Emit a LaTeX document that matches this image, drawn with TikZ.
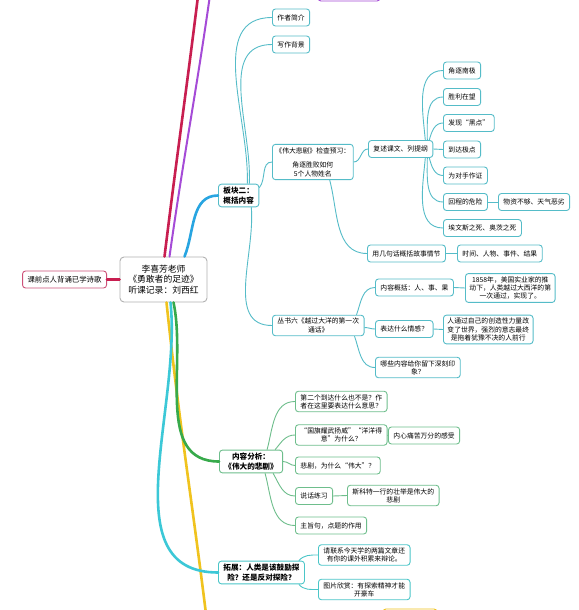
\documentclass[tikz,border=0pt]{standalone}
\usepackage{fontspec}
\newfontfamily\cjk{Noto Sans CJK SC}
\usetikzlibrary{positioning}
\definecolor{crimsonline}{RGB}{200,30,80}
\definecolor{pinkbox}{RGB}{205,80,120}
\definecolor{purpleline}{RGB}{165,75,215}
\definecolor{blueline}{RGB}{40,165,225}
\definecolor{tealbox}{RGB}{85,188,200}
\definecolor{greenline}{RGB}{55,170,75}
\definecolor{greenbox}{RGB}{110,190,140}
\definecolor{cyanline}{RGB}{60,200,215}
\definecolor{cyanbox}{RGB}{75,198,200}
\definecolor{yellowline}{RGB}{240,195,30}

\tikzset{
  leaf/.style={draw=#1,line width=0.9pt,rounded corners=3pt,fill=white,
    align=center,font=\cjk\fontsize{6.8}{8.2}\selectfont,
    inner xsep=5pt,inner ysep=3pt,minimum height=17pt,anchor=west},
  leaf/.default=tealbox,
  chief/.style={leaf=#1,font=\cjk\bfseries\fontsize{7.6}{9.4}\selectfont},
  chief/.default=tealbox,
  trunk/.style={draw=#1,line width=2.6pt,line cap=round},
  twig/.style={draw=#1,line width=0.9pt},
  twig/.default=tealbox
}

\begin{document}
\begin{tikzpicture}[x=1pt,y=-1pt]
  \useasboundingbox (0,0) rectangle (578,610);
  \clip (0,0) rectangle (578,610);
  \fill[white] (0,0) rectangle (578,610);

  % free ends of the branches leaving the frame
  \coordinate (crimtop) at (199,-12);
  \coordinate (purptop) at (211,-12);
  \coordinate (yelbot) at (207,622);

  % nodes
  \node[draw=gray!60,line width=0.9pt,rounded corners=4pt,fill=white,
        align=center,font=\cjk\fontsize{8.8}{10.6}\selectfont,
        minimum width=87pt,minimum height=45pt] (root) at (163.5,279.5)
    {李喜芳老师\\《勇敢者的足迹》\\听课记录：刘西红};
  \node[leaf=pinkbox,anchor=east,font=\cjk\fontsize{7.4}{9}\selectfont] (recite) at (107,279.5) {课前点人背诵已学诗歌};
  \node[leaf=purpleline,minimum width=62pt,minimum height=20pt,anchor=center] (ptopbox) at (349,-9) {};
  \node[leaf=yellowline,minimum width=54pt,minimum height=20pt,anchor=center] (ybotbox) at (410,619) {};

  \node[chief] (bk) at (218,195.5) {板块二：\\概括内容};
  \node[leaf] (author) at (272,17.5) {作者简介};
  \node[leaf] (backg) at (272,44.5) {写作背景};
  \node[leaf,inner xsep=3pt] (preview) at (272,162) {《伟大悲剧》检查预习：\\[6.6pt]角逐胜败如何\\5个人物姓名};
  \node[leaf] (retell) at (368,149) {复述课文、列提纲};
  \node[leaf] (o1) at (443,70.5) {角逐南极};
  \node[leaf] (o2) at (443,97) {胜利在望};
  \node[leaf] (o3) at (443,123) {发现“黑点”};
  \node[leaf] (o4) at (443,149.5) {到达极点};
  \node[leaf] (o5) at (443,175.5) {为对手作证};
  \node[leaf] (o6) at (443,202) {回程的危险};
  \node[leaf] (o6a) at (498,202) {物资不够、天气恶劣};
  \node[leaf] (o7) at (443,228) {埃文斯之死、奥茨之死};
  \node[leaf] (plot) at (367,253.5) {用几句话概括故事情节};
  \node[leaf] (plota) at (457,253.5) {时间、人物、事件、结果};

  \node[leaf] (book) at (272,325.5) {丛书六《越过大洋的第一次\\通话》};
  \node[leaf] (gist) at (375,287.5) {内容概括：人、事、果};
  \node[leaf,inner xsep=4pt] (gista) at (465,288) {1858年，美国实业家的推\\动下，人类越过大西洋的第\\一次通过，实现了。};
  \node[leaf] (feel) at (375,329) {表达什么情感？};
  \node[leaf,inner xsep=4pt] (feela) at (443,329.5) {人通过自己的创造性力量改\\变了世界，强烈的意志最终\\是拖着犹豫不决的人前行};
  \node[leaf] (deep) at (375,367.5) {哪些内容给你留下深刻印\\象？};

  \node[chief=greenbox] (anal) at (219,461.5) {内容分析：\\《伟大的悲剧》};
  \node[leaf=greenbox] (q1) at (295,401.5) {第二个到达什么也不是？作\\者在这里要表达什么意思？};
  \node[leaf=greenbox] (q2) at (295,435) {“国旗耀武扬威”“洋洋得\\意”为什么？};
  \node[leaf=greenbox] (q2a) at (388,435.5) {内心痛苦万分的感受};
  \node[leaf=greenbox] (q3) at (295,465.5) {悲剧，为什么“伟大”？};
  \node[leaf=greenbox] (q4) at (295,496) {说话练习};
  \node[leaf=greenbox] (q4a) at (347,495.5) {斯科特一行的壮举是伟大的\\悲剧};
  \node[leaf=greenbox] (q5) at (295,525.5) {主旨句，点题的作用};

  \node[chief=cyanbox] (ext) at (218,572.5) {拓展：人类是该鼓励探\\险？还是反对探险？};
  \node[leaf=cyanbox] (ext1) at (318,555) {请联系今天学的两篇文章还\\有你的课外积累来辩论。};
  \node[leaf=cyanbox] (ext2) at (318,589.5) {图片欣赏：有探索精神才能\\开豪车};

  % main branches
  \draw[trunk=crimsonline] (root.west) -- (recite.east);
  \draw[trunk=crimsonline] ([xshift=1pt]root.north) to[out=83,in=-97] (crimtop);
  \draw[trunk=purpleline,line width=2pt] ([xshift=6pt]root.north) to[out=82,in=-98] (purptop);
  \draw[trunk=blueline] ([xshift=21pt]root.north) to[out=68,in=180] (bk.west);
  \draw[trunk=yellowline] ([xshift=3pt]root.south) to[out=-84,in=97] (yelbot);
  \draw[trunk=cyanline] ([xshift=7pt]root.south) to[out=-84,in=180] (ext.west);
  \draw[trunk=greenline] ([xshift=10pt]root.south) to[out=-78,in=180] (anal.west);

  % block two
  \draw[twig] ([xshift=-12pt]bk.north east) to[out=88,in=180] (author.west);
  \draw[twig] ([xshift=-10pt]bk.north east) to[out=87,in=180] (backg.west);
  \draw[twig] ([yshift=-4pt]bk.north east) to[out=50,in=180] (preview.west);
  \draw[twig] ([xshift=-8pt]bk.south east) to[out=-85,in=180] (book.west);
  \draw[twig] (preview.east) to[out=0,in=180] (retell.west);
  \draw[twig] ([xshift=-24pt]preview.south east) to[out=-75,in=180] (plot.west);
  \draw[twig] ([xshift=-8pt]retell.north east) to[out=95,in=180] (o1.west);
  \draw[twig] ([xshift=-6pt]retell.north east) to[out=90,in=180] (o2.west);
  \draw[twig] ([xshift=-4pt]retell.north east) to[out=75,in=180] (o3.west);
  \draw[twig] (retell.east) -- (o4.west);
  \draw[twig] ([xshift=-4pt]retell.south east) to[out=-75,in=180] (o5.west);
  \draw[twig] ([xshift=-6pt]retell.south east) to[out=-90,in=180] (o6.west);
  \draw[twig] ([xshift=-8pt]retell.south east) to[out=-95,in=180] (o7.west);
  \draw[twig] (o6.east) -- (o6a.west);
  \draw[twig] (plot.east) -- (plota.west);

  % book six
  \draw[twig] ([xshift=-8pt]book.north east) to[out=70,in=180] (gist.west);
  \draw[twig] ([yshift=-2pt]book.east) to[out=0,in=180] (feel.west);
  \draw[twig] ([xshift=-10pt]book.south east) to[out=-70,in=180] (deep.west);
  \draw[twig] (gist.east) -- (gista.west);
  \draw[twig] (feel.east) -- (feela.west);

  % analysis
  \draw[twig=greenbox] ([xshift=-16pt]anal.north east) to[out=75,in=180] (q1.west);
  \draw[twig=greenbox] ([xshift=-8pt]anal.north east) to[out=50,in=180] (q2.west);
  \draw[twig=greenbox] (anal.east) to[out=0,in=180] (q3.west);
  \draw[twig=greenbox] ([xshift=-10pt]anal.south east) to[out=-60,in=180] (q4.west);
  \draw[twig=greenbox] ([xshift=-18pt]anal.south east) to[out=-75,in=180] (q5.west);
  \draw[twig=greenbox] (q2.east) -- (q2a.west);
  \draw[twig=greenbox] (q4.east) -- (q4a.west);

  % extension
  \draw[twig=cyanbox] ([xshift=-6pt]ext.north east) to[out=50,in=180] (ext1.west);
  \draw[twig=cyanbox] ([xshift=-6pt]ext.south east) to[out=-50,in=180] (ext2.west);
\end{tikzpicture}
\end{document}
